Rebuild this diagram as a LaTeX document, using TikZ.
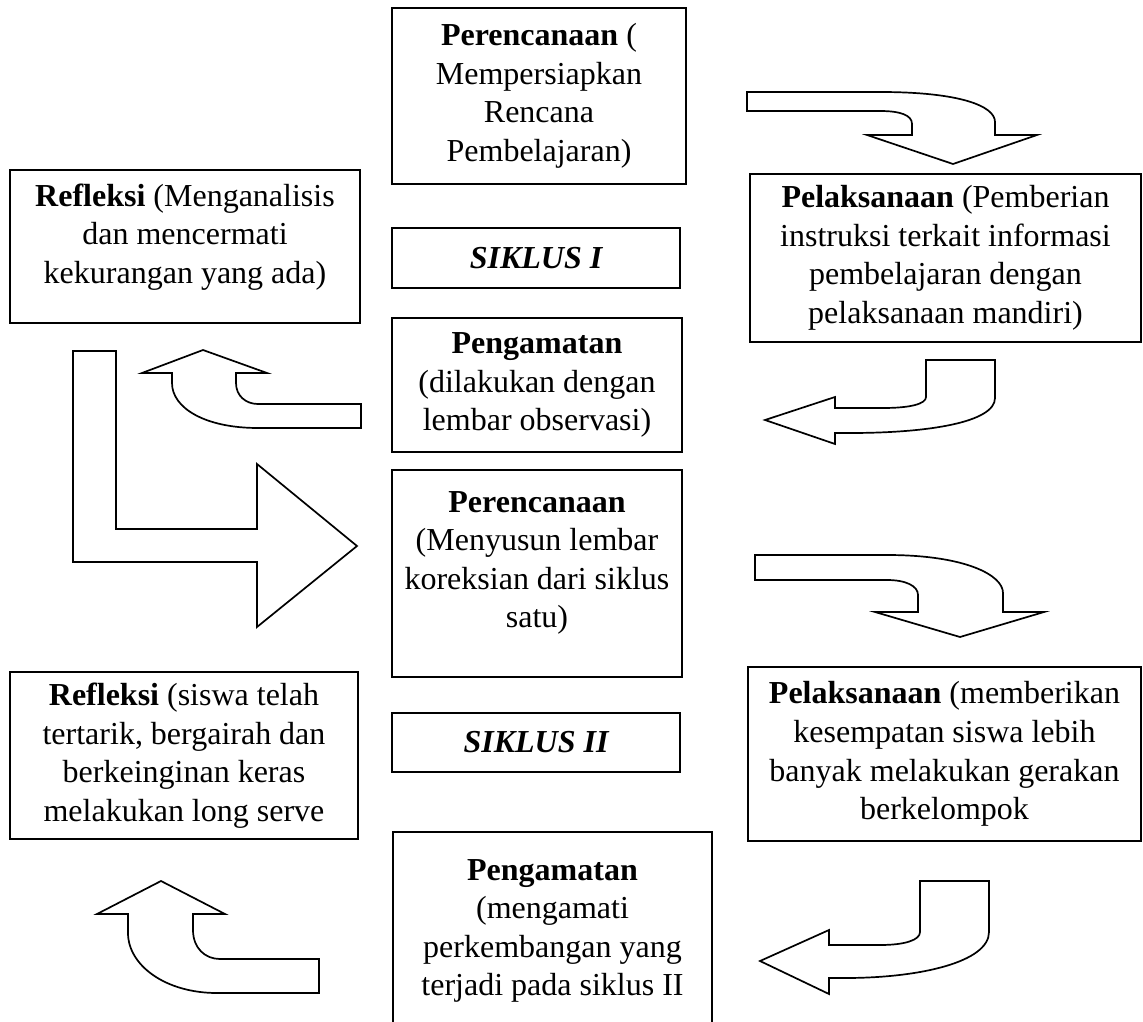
\documentclass[tikz,border=0pt]{standalone}
\usepackage{fontspec}
\setmainfont{Liberation Serif}
\usepackage{tikz}
\usetikzlibrary{arrows.meta}
\tikzset{
  stage/.style={draw, line width=1.3pt, align=center, inner sep=2pt,
                font=\fontsize{16}{19.3}\selectfont},
  cyclebox/.style={stage, font=\fontsize{16}{19.3}\selectfont\bfseries\itshape},
  barrow/.style={draw, fill=white, line width=0.85pt, line join=miter},
}

\begin{document}
\begin{tikzpicture}[x=0.5pt, y=-0.5pt]
  \useasboundingbox (0,0) rectangle (1143,1021);
  \clip (0,0) rectangle (1143,1021);
  % siklus I
  \node[stage, minimum width=147pt, minimum height=88pt] (plan1) at (539,96)
    {\textbf{Perencanaan} (\\Mempersiapkan\\Rencana\\Pembelajaran)};
  \node[stage, minimum width=175pt, minimum height=76.5pt, text depth=13pt] (refl1) at (185,246.5)
    {\textbf{Refleksi} (Menganalisis\\dan mencermati\\kekurangan yang ada)};
  \node[cyclebox, minimum width=144pt, minimum height=30pt] (cyc1) at (536,258) {SIKLUS I};
  \node[stage, minimum width=195.5pt, minimum height=84pt] (act1) at (945.5,258)
    {\textbf{Pelaksanaan} (Pemberian\\instruksi terkait informasi\\pembelajaran dengan\\pelaksanaan mandiri)};
  \node[stage, minimum width=145pt, minimum height=67pt] (obs1) at (537,385)
    {\textbf{Pengamatan}\\(dilakukan dengan\\lembar observasi)};
  % siklus II
  \node[stage, minimum width=145pt, minimum height=103.5pt, text depth=14pt] (plan2) at (537,573.5)
    {\textbf{Perencanaan}\\(Menyusun lembar\\koreksian dari siklus\\satu)};
  \node[stage, minimum width=174pt, minimum height=83.5pt] (refl2) at (184,755.5)
    {\textbf{Refleksi} (siswa telah\\tertarik, bergairah dan\\berkeinginan keras\\melakukan long serve};
  \node[cyclebox, minimum width=144pt, minimum height=29.5pt] (cyc2) at (536,742.5) {SIKLUS II};
  \node[stage, minimum width=196.5pt, minimum height=87pt] (act2) at (944.5,754)
    {\textbf{Pelaksanaan} (memberikan\\kesempatan siswa lebih\\banyak melakukan gerakan\\berkelompok};
  \node[stage, minimum width=159.5pt, minimum height=99pt] (obs2) at (552.5,931)
    {\textbf{Pengamatan}\\(mengamati\\perkembangan yang\\terjadi pada siklus II};
  % block arrows
  \draw[barrow] (747,92) -- (880,92) .. controls (960,92) and (995,106) .. (995,122)
    -- (995,135) -- (1037,135) -- (953,164) -- (867,135) -- (912,135) -- (912,124)
    .. controls (912,115) and (900,111) .. (880,111) -- (747,111) -- cycle;
  \draw[barrow] (203,350) -- (267,373) -- (236,373) -- (236,383)
    .. controls (236,396) and (246,404) .. (258,404) -- (361,404) -- (361,428)
    -- (258,428) .. controls (205,428) and (172,408) .. (172,383) -- (172,373)
    -- (142,373) -- cycle;
  \draw[barrow] (926,360) -- (995,360) -- (995,398) .. controls (995,422) and (930,433) .. (850,433)
    -- (835,433) -- (835,444) -- (765,420) -- (835,397) -- (835,408) -- (883,408)
    .. controls (910,408) and (926,404) .. (926,397) -- cycle;
  \draw[barrow] (73,351) -- (116,351) -- (116,529) -- (257,529) -- (257,464)
    -- (357,546) -- (257,627) -- (257,562) -- (73,562) -- cycle;
  \draw[barrow] (755,555) -- (887,555) .. controls (965,555) and (1003,575) .. (1003,593)
    -- (1003,612) -- (1044,612) -- (960,637) -- (875,612) -- (918,612) -- (918,595)
    .. controls (918,586) and (906,580) .. (887,580) -- (755,580) -- cycle;
  \draw[barrow] (161,881) -- (225,914) -- (193,914) -- (193,930)
    .. controls (193,948) and (205,959) .. (220,959) -- (319,959) -- (319,993)
    -- (217,993) .. controls (165,993) and (128,965) .. (128,933) -- (128,914)
    -- (97,914) -- cycle;
  \draw[barrow] (920,881) -- (989,881) -- (989,932) .. controls (989,962) and (920,978) .. (845,978)
    -- (829,978) -- (829,994) -- (760,961) -- (829,930) -- (829,945) -- (880,945)
    .. controls (905,945) and (920,940) .. (920,932) -- cycle;
\end{tikzpicture}
\end{document}
